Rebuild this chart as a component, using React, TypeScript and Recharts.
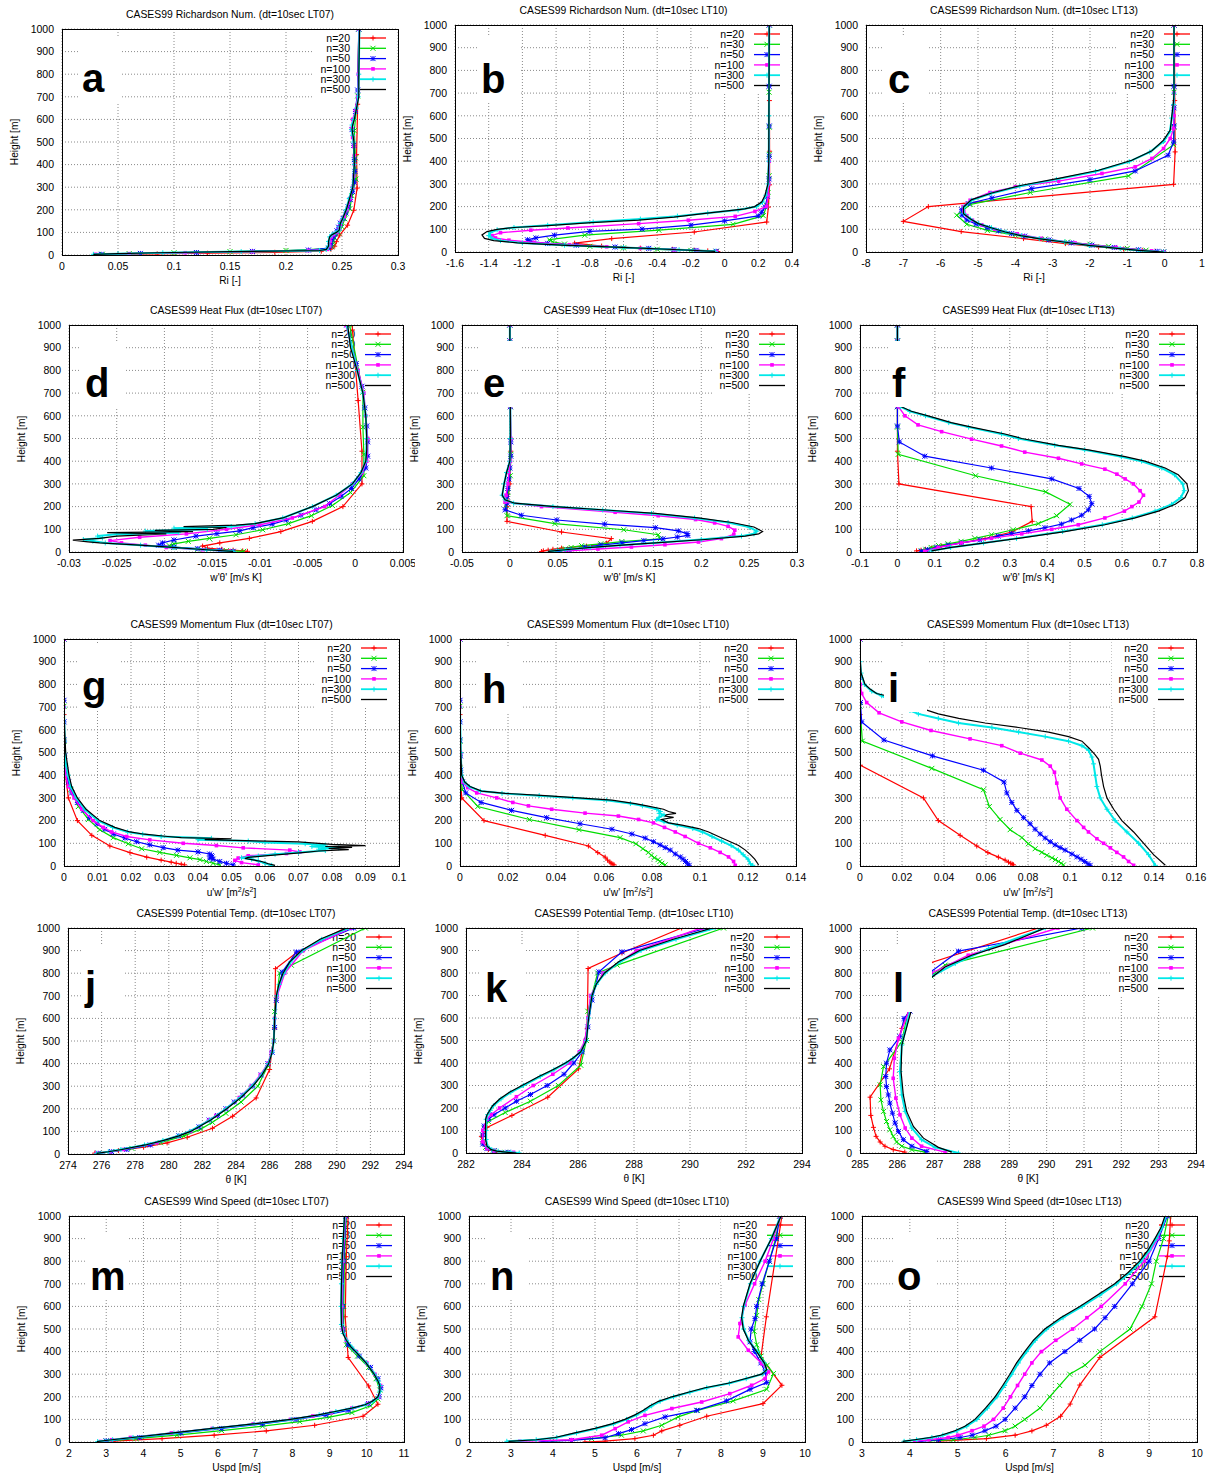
import React from 'react';
import { ScatterChart, Scatter, XAxis, YAxis, CartesianGrid } from 'recharts';

type P = [number, number]; // [height m, value]

const FONT = '"Liberation Sans", Arial, Helvetica, sans-serif';
const HEIGHT_TICKS = [0, 100, 200, 300, 400, 500, 600, 700, 800, 900, 1000];
const SERIES_NAMES = ['n=20', 'n=30', 'n=50', 'n=100', 'n=300', 'n=500'];
const SERIES_COLORS = ['#ff0000', '#00dd00', '#0000ff', '#ff00ff', '#00e8e8', '#000000'];
const SERIES_WIDTHS = [1.2, 1.2, 1.2, 1.4, 2, 1.2];

const TICKS_A = [0, 0.05, 0.1, 0.15, 0.2, 0.25, 0.3];
const TICKS_B = [-1.6, -1.4, -1.2, -1, -0.8, -0.6, -0.4, -0.2, 0, 0.2, 0.4];
const TICKS_C = [-8, -7, -6, -5, -4, -3, -2, -1, 0, 1];
const TICKS_D = [-0.03, -0.025, -0.02, -0.015, -0.01, -0.005, 0, 0.005];
const TICKS_E = [-0.05, 0, 0.05, 0.1, 0.15, 0.2, 0.25, 0.3];
const TICKS_F = [-0.1, 0, 0.1, 0.2, 0.3, 0.4, 0.5, 0.6, 0.7, 0.8];
const TICKS_G = [0, 0.01, 0.02, 0.03, 0.04, 0.05, 0.06, 0.07, 0.08, 0.09, 0.1];
const TICKS_H = [0, 0.02, 0.04, 0.06, 0.08, 0.1, 0.12, 0.14];
const TICKS_I = [0, 0.02, 0.04, 0.06, 0.08, 0.1, 0.12, 0.14, 0.16];
const TICKS_J = [274, 276, 278, 280, 282, 284, 286, 288, 290, 292, 294];
const TICKS_K = [282, 284, 286, 288, 290, 292, 294];
const TICKS_L = [285, 286, 287, 288, 289, 290, 291, 292, 293, 294];
const TICKS_M = [2, 3, 4, 5, 6, 7, 8, 9, 10, 11];
const TICKS_N = [2, 3, 4, 5, 6, 7, 8, 9, 10];
const TICKS_O = [3, 4, 5, 6, 7, 8, 9, 10];

// ---------- a: Richardson LT07 ----------
const a20: P[] = [[1000,0.265],[667,0.264],[444,0.263],[296,0.2635],[198,0.2605],[132,0.255],[88,0.248],[59,0.245],[39,0.2435],[26,0.24],[17,0.2315],[12,0.19],[8,0.13],[5,0.085],[3,0.05]];
const a30: P[] = [[1000,0.265],[704,0.264],[550,0.261],[430,0.262],[336,0.2625],[262,0.259],[205,0.257],[160,0.2525],[125,0.25],[98,0.247],[76,0.2435],[60,0.242],[47,0.2415],[36,0.241],[28,0.238],[20,0.2],[15,0.15],[10,0.1],[6,0.06],[3,0.036]];
const a50: P[] = [[1000,0.265],[730,0.264],[635,0.262],[555,0.259],[485,0.2605],[422,0.261],[370,0.2615],[322,0.261],[280,0.2595],[245,0.2575],[213,0.2555],[186,0.2535],[162,0.251],[141,0.2485],[123,0.247],[107,0.2455],[93,0.244],[81,0.2425],[70,0.241],[53,0.24],[40,0.2395],[30,0.238],[22,0.22],[16,0.17],[11,0.12],[7,0.07],[3,0.035]];
const a100: P[] = [[1000,0.265],[800,0.2645],[700,0.264],[640,0.262],[600,0.2595],[560,0.2585],[520,0.2595],[480,0.2605],[440,0.261],[400,0.261],[350,0.2605],[300,0.2595],[250,0.2575],[200,0.2545],[170,0.252],[150,0.2495],[130,0.2485],[115,0.2475],[100,0.2455],[90,0.2425],[80,0.2405],[60,0.2395],[40,0.239],[25,0.237],[20,0.22],[15,0.17],[10,0.11],[6,0.06],[3,0.03]];
const a300: P[] = [[1000,0.2655],[800,0.265],[700,0.2645],[650,0.263],[600,0.2605],[575,0.259],[555,0.2585],[530,0.2595],[500,0.2605],[400,0.261],[300,0.2595],[250,0.2565],[200,0.2535],[160,0.2505],[140,0.2485],[125,0.248],[110,0.2475],[100,0.2445],[90,0.241],[80,0.239],[60,0.238],[40,0.238],[25,0.236],[20,0.23],[15,0.16],[10,0.09],[6,0.05],[3,0.028]];
const a500: P[] = [[1000,0.2657],[800,0.265],[700,0.265],[650,0.263],[600,0.261],[575,0.2595],[555,0.259],[530,0.2598],[500,0.2607],[400,0.261],[300,0.2597],[250,0.2568],[200,0.2538],[160,0.2505],[140,0.2485],[125,0.248],[110,0.2475],[100,0.245],[90,0.241],[80,0.239],[60,0.238],[40,0.238],[25,0.236],[20,0.23],[15,0.15],[10,0.085],[6,0.05],[3,0.028]];

// ---------- b: Richardson LT10 ----------
const b20: P[] = [[1000,0.265],[667,0.266],[444,0.267],[296,0.267],[198,0.26],[132,0.25],[88,-0.18],[59,-0.67],[39,-0.89],[26,-0.73],[17,-0.5],[12,-0.31],[8,-0.18],[5,-0.1],[2,-0.04]];
const b30: P[] = [[1000,0.265],[704,0.264],[550,0.265],[430,0.265],[336,0.264],[262,0.258],[205,0.25],[160,0.23],[122,0.05],[96,-0.39],[74,-0.83],[54,-1.04],[45,-1.02],[35,-0.95],[25,-0.8],[18,-0.6],[12,-0.4],[7,-0.2],[3,-0.05]];
const b50: P[] = [[1000,0.265],[730,0.264],[555,0.265],[422,0.265],[322,0.264],[245,0.255],[199,0.24],[175,0.22],[159,0.2],[137,0.0],[118,-0.2],[101,-0.49],[91,-0.8],[74,-1.01],[62,-1.12],[54,-1.17],[46,-1.15],[38,-1.05],[30,-0.88],[22,-0.65],[16,-0.45],[11,-0.3],[7,-0.17],[3,-0.05]];
const b100: P[] = [[1000,0.265],[400,0.265],[300,0.262],[250,0.258],[201,0.25],[179,0.18],[157,0.063],[140,-0.215],[125,-0.51],[106,-0.93],[96,-1.15],[85,-1.33],[72,-1.38],[62,-1.36],[52,-1.28],[42,-1.13],[32,-0.92],[23,-0.7],[16,-0.5],[10,-0.3],[6,-0.16],[2,-0.05]];
const b300: P[] = [[1000,0.265],[600,0.263],[400,0.262],[300,0.258],[250,0.245],[220,0.225],[200,0.19],[185,0.08],[172,-0.1],[158,-0.28],[145,-0.5],[132,-0.78],[118,-1.05],[108,-1.25],[98,-1.35],[85,-1.39],[72,-1.4],[60,-1.38],[50,-1.33],[40,-1.2],[30,-0.95],[20,-0.6],[10,-0.27],[3,-0.056]];
const b500: P[] = [[1000,0.265],[600,0.263],[400,0.262],[300,0.257],[250,0.24],[220,0.22],[200,0.178],[190,0.12],[180,0.003],[170,-0.116],[154,-0.3],[140,-0.51],[129,-0.79],[115,-1.07],[108,-1.25],[100,-1.35],[90,-1.41],[75,-1.44],[60,-1.425],[50,-1.37],[40,-1.23],[30,-0.97],[20,-0.61],[10,-0.27],[3,-0.056]];

// ---------- c: Richardson LT13 ----------
const c20: P[] = [[1000,0.26],[667,0.27],[441,0.28],[298,0.24],[200,-6.33],[135,-7.0],[90,-5.45],[59,-3.78],[37,-2.66],[22,-1.77],[13,-1.1],[7,-0.6],[3,-0.25],[0,-0.03]];
const c30: P[] = [[1000,0.25],[704,0.25],[550,0.25],[473,0.24],[335,-0.97],[262,-3.6],[210,-5.2],[162,-5.57],[122,-5.3],[95,-4.75],[74,-4.0],[57,-3.2],[44,-2.6],[34,-2.0],[25,-1.5],[16,-1.0],[8,-0.5],[0,-0.03]];
const c50: P[] = [[1000,0.25],[730,0.25],[635,0.25],[555,0.25],[485,0.24],[426,0.09],[357,-0.79],[319,-2.0],[279,-3.56],[238,-4.63],[213,-5.26],[186,-5.44],[162,-5.43],[141,-5.3],[123,-5.05],[107,-4.75],[93,-4.45],[81,-4.1],[70,-3.75],[53,-3.1],[40,-2.5],[30,-1.95],[20,-1.35],[10,-0.7],[3,-0.2],[0,-0.03]];
const c100: P[] = [[1000,0.25],[700,0.25],[600,0.25],[544,0.24],[500,0.15],[456,-0.03],[412,-0.34],[375,-0.79],[346,-1.68],[312,-2.84],[287,-4.0],[262,-4.68],[228,-5.21],[200,-5.4],[180,-5.38],[160,-5.3],[140,-5.15],[120,-4.9],[100,-4.55],[80,-3.95],[60,-3.3],[40,-2.4],[20,-1.3],[5,-0.35],[0,-0.03]];
const c300: P[] = [[1000,0.25],[700,0.25],[650,0.24],[590,0.19],[530,0.14],[487,-0.03],[440,-0.4],[398,-0.95],[355,-1.85],[320,-2.9],[290,-3.88],[258,-4.65],[228,-5.17],[198,-5.38],[169,-5.38],[145,-5.2],[125,-4.98],[107,-4.64],[88,-4.25],[72,-3.83],[59,-3.36],[44,-2.68],[29,-2.02],[15,-1.19],[7,-0.7],[0,-0.03]];
const c500: P[] = [[1000,0.25],[700,0.25],[669,0.24],[596,0.19],[537,0.15],[493,-0.03],[446,-0.34],[404,-0.88],[360,-1.77],[324,-2.84],[294,-3.83],[260,-4.63],[231,-5.17],[198,-5.39],[169,-5.39],[145,-5.2],[125,-4.99],[107,-4.65],[88,-4.27],[72,-3.85],[59,-3.38],[44,-2.7],[29,-2.04],[15,-1.2],[7,-0.7],[0,-0.03]];

// ---------- d: Heat flux LT07 ----------
const d20: P[] = [[1000,-0.0003],[978,-0.0003],[667,0.0003],[444,0.0007],[300,0.0007],[200,-0.0013],[135,-0.0045],[90,-0.0078],[60,-0.0111],[40,-0.0142],[26,-0.016],[17,-0.0155],[12,-0.014],[8,-0.0128],[5,-0.0118],[3,-0.0113]];
const d30: P[] = [[1000,-0.0006],[704,0.0008],[550,0.0008],[430,0.0009],[336,0.0009],[262,-0.0005],[205,-0.0024],[160,-0.0046],[125,-0.007],[98,-0.0097],[76,-0.0125],[60,-0.0153],[47,-0.0175],[36,-0.019],[28,-0.0195],[20,-0.019],[12,-0.0165],[6,-0.0135],[3,-0.0117]];
const d50: P[] = [[1000,-0.0009],[830,0.0001],[730,0.0007],[635,0.001],[555,0.0012],[485,0.0013],[422,0.0013],[370,0.0011],[322,0.0004],[280,-0.0004],[245,-0.0015],[213,-0.0027],[186,-0.0041],[162,-0.0057],[141,-0.0072],[123,-0.0087],[107,-0.0107],[93,-0.0121],[81,-0.0145],[70,-0.0167],[53,-0.019],[40,-0.0202],[30,-0.0206],[22,-0.019],[15,-0.0165],[8,-0.0142],[3,-0.0128]];
const d100: P[] = [[1000,-0.001],[800,0.0003],[700,0.0009],[600,0.0011],[500,0.0013],[400,0.0012],[350,0.0007],[300,-0.0003],[250,-0.0017],[200,-0.0032],[150,-0.0066],[120,-0.01],[100,-0.0135],[80,-0.0177],[65,-0.0226],[50,-0.0257],[40,-0.0245],[30,-0.022],[20,-0.0198],[10,-0.016],[3,-0.0132]];
const d300: P[] = [[1000,-0.0009],[800,0.0002],[700,0.0008],[600,0.0011],[500,0.0012],[400,0.0011],[350,0.0006],[300,-0.0003],[250,-0.002],[200,-0.0045],[150,-0.0076],[125,-0.0105],[112,-0.013],[105,-0.019],[100,-0.0155],[92,-0.022],[85,-0.0185],[78,-0.025],[70,-0.027],[62,-0.0265],[55,-0.0285],[48,-0.0275],[40,-0.0262],[30,-0.0225],[20,-0.019],[10,-0.0156],[3,-0.0128]];
const d500: P[] = [[1000,-0.0008],[900,-0.0005],[800,0.0002],[700,0.0008],[600,0.0011],[500,0.0012],[450,0.0012],[400,0.0011],[350,0.0006],[300,-0.0003],[250,-0.002],[200,-0.0045],[150,-0.0076],[125,-0.0105],[118,-0.0125],[112,-0.018],[108,-0.0135],[100,-0.0149],[95,-0.021],[90,-0.017],[85,-0.026],[80,-0.0198],[70,-0.025],[60,-0.0268],[52,-0.0296],[45,-0.028],[40,-0.0268],[30,-0.0226],[20,-0.0191],[10,-0.0156],[3,-0.0128]];

// ---------- e: Heat flux LT10 ----------
const e20: P[] = [[1000,0],[930,0],[640,0.0005],[444,0.001],[300,0.0],[200,-0.003],[135,-0.003],[88,0.054],[59,0.106],[39,0.101],[26,0.08],[17,0.054],[12,0.045],[8,0.04],[5,0.035],[2,0.033]];
const e30: P[] = [[1000,0],[930,0],[640,0.0005],[430,0.001],[336,0.0005],[262,-0.002],[205,-0.004],[160,-0.003],[125,0.047],[98,0.119],[76,0.155],[58,0.157],[46,0.117],[36,0.095],[28,0.075],[20,0.064],[14,0.058],[8,0.052],[3,0.048]];
const e50: P[] = [[1000,0],[930,0],[640,0.0005],[485,0.001],[422,0.001],[370,0.0],[322,-0.001],[280,-0.002],[245,-0.003],[215,-0.003],[186,-0.005],[162,0.012],[141,0.049],[123,0.099],[107,0.152],[93,0.176],[81,0.185],[73,0.186],[66,0.175],[58,0.16],[50,0.14],[40,0.117],[30,0.095],[20,0.078],[10,0.062],[3,0.05]];
const e100: P[] = [[1000,0],[930,0],[640,0.0005],[500,0.001],[400,0.0005],[350,-0.001],[300,-0.002],[250,-0.004],[220,-0.005],[200,0.033],[175,0.11],[160,0.155],[143,0.194],[128,0.214],[113,0.228],[96,0.235],[78,0.234],[59,0.221],[44,0.197],[32,0.162],[22,0.127],[13,0.092],[4,0.058]];
const e300: P[] = [[1000,0],[930,0],[640,0.0005],[500,0.0005],[400,0.0],[350,-0.0035],[300,-0.006],[250,-0.008],[230,-0.005],[215,0.004],[200,0.045],[185,0.097],[170,0.148],[150,0.193],[130,0.228],[110,0.25],[92,0.258],[80,0.255],[70,0.242],[55,0.2],[40,0.15],[30,0.115],[20,0.084],[10,0.058],[3,0.042]];
const e500: P[] = [[1000,0],[930,0],[640,0.0005],[500,0.0005],[400,0.0],[350,-0.0035],[300,-0.006],[250,-0.008],[230,-0.005],[215,0.005],[200,0.047],[185,0.1],[170,0.152],[150,0.197],[130,0.232],[110,0.255],[90,0.264],[80,0.26],[70,0.246],[55,0.204],[40,0.152],[30,0.117],[20,0.085],[10,0.058],[3,0.04]];

// ---------- f: Heat flux LT13 ----------
const f20: P[] = [[1000,0],[930,0],[640,0.0],[444,0.0],[300,0.004],[200,0.357],[135,0.36],[88,0.305],[59,0.234],[39,0.167],[26,0.118],[17,0.091],[12,0.075],[8,0.063],[5,0.051]];
const f30: P[] = [[1000,0],[930,0],[640,0],[550,0],[430,0.002],[336,0.209],[265,0.396],[210,0.461],[160,0.425],[125,0.376],[98,0.309],[76,0.251],[60,0.207],[47,0.17],[36,0.135],[28,0.11],[20,0.09],[12,0.076],[5,0.064]];
const f50: P[] = [[1000,0],[930,0],[640,0],[555,0],[485,0.005],[422,0.073],[370,0.251],[322,0.412],[280,0.485],[245,0.512],[213,0.519],[186,0.51],[162,0.492],[141,0.465],[123,0.438],[107,0.394],[93,0.35],[81,0.305],[70,0.269],[53,0.22],[40,0.171],[30,0.135],[20,0.105],[10,0.08],[3,0.064]];
const f100: P[] = [[1000,0],[930,0],[640,0.003],[600,0.02],[560,0.055],[530,0.118],[497,0.198],[467,0.278],[440,0.34],[413,0.43],[388,0.492],[365,0.554],[343,0.586],[322,0.608],[300,0.63],[270,0.648],[250,0.657],[220,0.645],[200,0.626],[180,0.606],[150,0.554],[120,0.483],[100,0.412],[80,0.332],[60,0.251],[40,0.171],[20,0.109],[3,0.073]];
const f300: P[] = [[1000,0],[930,0],[640,0.008],[620,0.033],[600,0.075],[570,0.137],[550,0.19],[520,0.278],[500,0.323],[470,0.42],[450,0.5],[420,0.598],[400,0.652],[370,0.706],[340,0.74],[300,0.762],[270,0.766],[240,0.757],[210,0.732],[180,0.688],[150,0.627],[120,0.547],[90,0.441],[60,0.318],[40,0.23],[20,0.142],[5,0.09]];
const f500: P[] = [[1000,0],[930,0],[640,0.01],[620,0.037],[600,0.082],[570,0.144],[550,0.198],[520,0.287],[500,0.332],[470,0.43],[450,0.51],[420,0.608],[400,0.661],[370,0.715],[340,0.75],[300,0.773],[270,0.777],[240,0.768],[210,0.742],[180,0.697],[150,0.635],[120,0.554],[90,0.447],[60,0.323],[40,0.234],[20,0.144],[5,0.091]];

// ---------- g: Momentum flux LT07 ----------
const g20: P[] = [[1000,0],[667,0],[444,0.0001],[300,0.0013],[200,0.004],[135,0.0083],[88,0.0137],[59,0.0197],[39,0.0247],[26,0.029],[17,0.032],[12,0.0335],[8,0.035],[5,0.036]];
const g30: P[] = [[1000,0],[704,0],[550,0],[430,0.0003],[336,0.002],[262,0.0043],[205,0.0073],[160,0.0107],[125,0.0147],[98,0.0192],[76,0.0232],[60,0.0286],[47,0.0336],[36,0.0376],[28,0.0406],[20,0.0425],[12,0.0445],[5,0.0465]];
const g50: P[] = [[1000,0],[730,0],[635,0],[555,0],[485,0.0002],[422,0.0005],[370,0.0013],[322,0.0023],[280,0.004],[245,0.0058],[213,0.0076],[186,0.0099],[162,0.0122],[141,0.0147],[123,0.0182],[107,0.0217],[93,0.0256],[81,0.0296],[70,0.034],[62,0.04],[53,0.0435],[46,0.044],[40,0.0442],[35,0.0435],[30,0.0445],[20,0.0465],[12,0.0485],[5,0.0505]];
const g100: P[] = [[1000,0],[700,0],[550,0.0001],[450,0.0003],[400,0.0005],[350,0.0013],[300,0.003],[250,0.0053],[200,0.0087],[170,0.0117],[150,0.0142],[130,0.0187],[115,0.0256],[100,0.0356],[90,0.0455],[80,0.0535],[70,0.0674],[62,0.0704],[55,0.0664],[45,0.055],[35,0.052],[25,0.051],[15,0.053],[5,0.058]];
const g300: P[] = [[1000,0],[700,0],[550,0.0002],[450,0.0005],[400,0.0012],[350,0.002],[300,0.0037],[250,0.0062],[200,0.0102],[170,0.0145],[150,0.019],[140,0.0235],[130,0.029],[122,0.044],[116,0.04],[110,0.055],[104,0.06],[98,0.072],[92,0.078],[86,0.074],[80,0.082],[74,0.076],[68,0.078],[60,0.07],[52,0.063],[44,0.058],[36,0.053],[30,0.056],[22,0.058],[12,0.06],[3,0.062]];
const g500: P[] = [[1000,0],[700,0],[600,0.0002],[500,0.0005],[400,0.0015],[350,0.0023],[300,0.004],[250,0.0066],[200,0.0107],[170,0.0152],[150,0.0197],[140,0.024],[130,0.031],[125,0.035],[120,0.05],[116,0.042],[111,0.057],[106,0.07],[100,0.076],[95,0.08],[90,0.09],[86,0.078],[82,0.086],[77,0.079],[72,0.085],[66,0.076],[60,0.072],[52,0.066],[45,0.06],[38,0.055],[33,0.054],[28,0.056],[20,0.059],[10,0.061],[3,0.063]];

// ---------- h: Momentum flux LT10 ----------
const h20: P[] = [[1000,0],[667,0],[444,0],[300,0.0007],[200,0.01],[135,0.0355],[88,0.0535],[59,0.0574],[39,0.0605],[26,0.0615],[17,0.0625],[12,0.063],[8,0.0637],[5,0.0642]];
const h30: P[] = [[1000,0],[704,0],[550,0],[430,0],[336,0.001],[262,0.0074],[205,0.0289],[160,0.0496],[125,0.0667],[98,0.0733],[76,0.0762],[60,0.0785],[47,0.0797],[36,0.081],[28,0.0825],[20,0.0833],[12,0.0841],[5,0.0855]];
const h50: P[] = [[1000,0],[730,0],[635,0],[555,0],[485,0.0002],[422,0.0003],[370,0.001],[322,0.0024],[280,0.0088],[245,0.0215],[213,0.0361],[186,0.05],[162,0.0633],[141,0.0716],[123,0.0772],[107,0.0806],[93,0.0834],[81,0.0855],[70,0.0876],[53,0.0897],[40,0.0918],[30,0.093],[20,0.094],[10,0.0948],[3,0.0955]];
const h100: P[] = [[1000,0],[700,0],[500,0.0002],[400,0.0004],[370,0.001],[345,0.0032],[322,0.007],[300,0.0153],[280,0.022],[265,0.0285],[250,0.0382],[233,0.0521],[220,0.066],[205,0.0744],[190,0.0806],[170,0.0852],[150,0.0897],[130,0.0938],[100,0.0994],[80,0.1043],[60,0.1084],[40,0.1119],[20,0.114],[3,0.1147]];
const h300: P[] = [[1000,0],[700,0],[500,0.0003],[400,0.0007],[370,0.0018],[350,0.0038],[330,0.0085],[320,0.0175],[310,0.033],[300,0.047],[290,0.061],[275,0.071],[265,0.076],[250,0.082],[240,0.0835],[232,0.083],[225,0.085],[215,0.083],[205,0.082],[195,0.085],[180,0.0905],[165,0.097],[150,0.101],[130,0.105],[110,0.109],[90,0.113],[70,0.116],[50,0.118],[30,0.12],[10,0.121],[3,0.122]];
const h500: P[] = [[1000,0],[700,0],[500,0.0003],[400,0.0007],[370,0.002],[350,0.0042],[330,0.009],[320,0.0188],[310,0.0355],[300,0.0494],[290,0.0633],[275,0.073],[265,0.0779],[250,0.0848],[240,0.0869],[232,0.09],[226,0.086],[220,0.0855],[214,0.089],[205,0.084],[190,0.0869],[180,0.0925],[165,0.0994],[150,0.1036],[130,0.1077],[110,0.1119],[90,0.1161],[70,0.1189],[50,0.121],[30,0.1228],[10,0.1241],[3,0.1244]];

// ---------- i: Momentum flux LT13 ----------
const i20: P[] = [[1000,0],[667,0],[444,0.0002],[300,0.0302],[200,0.0373],[135,0.0477],[88,0.0556],[59,0.0609],[39,0.0659],[26,0.0691],[17,0.0707],[12,0.0718],[8,0.0725],[5,0.0731]];
const i30: P[] = [[1000,0],[704,0],[550,0.0011],[430,0.0342],[336,0.0588],[262,0.0616],[205,0.0667],[160,0.0715],[125,0.0771],[98,0.0802],[76,0.0834],[60,0.0866],[47,0.089],[36,0.0914],[28,0.093],[20,0.0945],[12,0.0958],[5,0.0969]];
const i50: P[] = [[1000,0],[830,0],[720,0.0002],[635,0.0008],[555,0.0114],[485,0.0345],[422,0.0588],[370,0.0686],[322,0.0699],[280,0.0723],[245,0.0747],[213,0.0779],[186,0.081],[162,0.0834],[141,0.0858],[123,0.0882],[107,0.0906],[93,0.0929],[81,0.0953],[70,0.0977],[53,0.1009],[40,0.1033],[30,0.1053],[20,0.107],[10,0.1085],[3,0.1096]];
const i100: P[] = [[1000,0],[850,0],[800,0.0002],[760,0.0008],[720,0.0032],[675,0.0091],[635,0.0199],[597,0.0338],[560,0.0524],[530,0.0675],[497,0.0763],[467,0.0866],[440,0.0906],[413,0.0926],[365,0.0937],[300,0.0953],[250,0.0985],[200,0.1033],[170,0.1065],[150,0.1088],[120,0.1128],[100,0.116],[80,0.1192],[60,0.1223],[40,0.1255],[20,0.1279],[3,0.1303]];
const i300: P[] = [[1000,0],[900,0],[850,0.0005],[800,0.0021],[770,0.0056],[750,0.0103],[720,0.016],[700,0.02],[685,0.0238],[670,0.0278],[650,0.0373],[630,0.0469],[610,0.0628],[590,0.0755],[570,0.0882],[550,0.0993],[530,0.1057],[510,0.1088],[480,0.1104],[450,0.1112],[400,0.112],[350,0.1128],[300,0.1144],[250,0.1176],[200,0.1215],[150,0.1271],[100,0.1327],[50,0.1374],[3,0.1406]];
const i500: P[] = [[1000,0],[900,0.0002],[850,0.0005],[800,0.0024],[780,0.0048],[760,0.0079],[748,0.0135],[720,0.022],[690,0.0307],[670,0.0373],[650,0.047],[630,0.0596],[610,0.0755],[590,0.0898],[570,0.0993],[550,0.1057],[520,0.109],[490,0.112],[470,0.1136],[440,0.1144],[400,0.115],[350,0.116],[300,0.1176],[250,0.1208],[200,0.1247],[150,0.1303],[100,0.1351],[50,0.1398],[3,0.1454]];

// ---------- j: Potential temperature LT07 ----------
const j20: P[] = [[1000,290.5],[890,287.6],[820,286.35],[554,286.3],[374,286.0],[248,285.2],[167,283.8],[114,282.6],[74,281.1],[49,279.9],[30,278.5],[15,277.0],[4,275.6]];
const j30: P[] = [[1000,291.7],[835,287.3],[800,286.6],[630,286.3],[500,286.25],[390,285.9],[300,285.3],[230,284.3],[180,283.4],[140,282.6],[110,281.9],[80,280.9],[50,279.5],[25,277.8],[10,276.6],[3,275.8]];
const j50: P[] = [[1000,291.0],[894,287.6],[805,286.75],[680,286.4],[560,286.3],[450,286.15],[400,285.9],[350,285.5],[300,285.0],[260,284.4],[230,283.9],[200,283.4],[170,282.9],[150,282.4],[120,281.8],[80,280.6],[40,278.9],[20,277.5],[10,276.6],[3,275.8]];
const j100: P[] = [[1000,290.8],[900,288.0],[800,286.9],[700,286.45],[600,286.3],[500,286.25],[450,286.1],[400,285.9],[350,285.45],[300,284.9],[250,284.2],[200,283.4],[170,282.8],[150,282.4],[100,281.3],[50,279.3],[20,277.3],[10,276.5],[3,275.7]];
const j300: P[] = [[1000,290.7],[950,289.1],[900,287.95],[850,287.25],[800,286.85],[750,286.57],[700,286.42],[600,286.3],[500,286.25],[450,286.15],[400,285.93],[350,285.52],[300,284.95],[250,284.25],[200,283.4],[150,282.45],[100,281.25],[80,280.55],[60,279.65],[40,278.55],[20,277.15],[10,276.4],[3,275.7]];
const j500: P[] = [[1000,290.6],[950,289.0],[900,287.9],[850,287.2],[800,286.8],[750,286.55],[700,286.4],[600,286.3],[500,286.25],[450,286.15],[400,285.95],[350,285.55],[300,285.0],[250,284.3],[200,283.45],[150,282.5],[100,281.3],[80,280.6],[60,279.7],[40,278.6],[20,277.2],[10,276.4],[3,275.7]];

// ---------- k: Potential temperature LT10 ----------
const k20: P[] = [[1000,289.7],[889,287.57],[820,286.36],[554,286.33],[374,286.02],[248,284.92],[167,283.64],[114,282.75],[74,282.55],[49,282.6],[30,282.7],[15,282.8],[4,283.1]];
const k30: P[] = [[1000,291.2],[835,287.4],[800,286.7],[630,286.35],[500,286.3],[390,286.1],[300,285.3],[230,284.3],[180,283.4],[140,282.8],[110,282.65],[80,282.6],[50,282.6],[25,282.7],[10,283.0],[3,283.4]];
const k50: P[] = [[1000,290.6],[894,287.57],[805,286.75],[680,286.5],[560,286.35],[450,286.15],[400,285.85],[350,285.5],[300,284.9],[260,284.3],[230,283.8],[200,283.4],[170,283.0],[150,282.8],[120,282.65],[80,282.6],[40,282.6],[20,282.75],[10,283.0],[3,283.5]];
const k100: P[] = [[1000,290.4],[900,288.1],[800,286.9],[700,286.45],[600,286.35],[500,286.25],[450,286.05],[400,285.7],[350,285.1],[300,284.4],[250,283.8],[200,283.2],[170,282.9],[150,282.75],[100,282.6],[50,282.6],[20,282.75],[10,283.0],[3,283.7]];
const k300: P[] = [[1000,290.9],[950,289.5],[900,288.25],[850,287.5],[800,286.97],[750,286.66],[700,286.5],[600,286.38],[500,286.3],[450,286.1],[420,285.82],[400,285.58],[370,285.14],[340,284.65],[300,284.05],[270,283.6],[240,283.25],[210,282.98],[190,282.87],[170,282.77],[150,282.72],[100,282.72],[60,282.72],[30,282.77],[15,282.92],[8,283.15],[3,283.6],[0,283.9]];
const k500: P[] = [[1000,290.8],[950,289.4],[900,288.2],[850,287.45],[800,286.95],[750,286.65],[700,286.5],[600,286.38],[500,286.3],[450,286.1],[420,285.8],[400,285.55],[370,285.1],[340,284.6],[300,284.0],[270,283.55],[240,283.2],[210,282.95],[190,282.85],[170,282.75],[150,282.7],[100,282.7],[60,282.7],[30,282.75],[15,282.9],[8,283.1],[3,283.5],[0,283.8]];

// ---------- l: Potential temperature LT13 ----------
const l20: P[] = [[1000,289.78],[846,286.9],[631,286.3],[554,286.12],[374,285.79],[248,285.27],[167,285.29],[114,285.36],[74,285.43],[49,285.54],[30,285.67],[15,285.89],[4,286.2]];
const l30: P[] = [[1000,291.23],[835,287.28],[787,286.9],[640,286.3],[495,286.12],[384,285.63],[303,285.54],[236,285.56],[185,285.63],[140,285.71],[103,285.8],[74,285.89],[49,285.98],[30,286.12],[15,286.39],[4,286.74]];
const l50: P[] = [[1000,290.94],[897,287.64],[805,286.9],[631,286.34],[598,286.18],[517,286.07],[458,285.8],[399,285.71],[340,285.69],[295,285.71],[258,285.76],[222,285.8],[177,285.87],[133,285.94],[96,286.03],[59,286.16],[30,286.39],[7,286.79]];
const l100: P[] = [[1000,290.3],[879,287.9],[798,286.9],[631,286.31],[510,286.03],[421,285.92],[332,285.89],[244,285.96],[170,286.07],[111,286.21],[66,286.39],[30,286.65],[4,287.28]];
const l300: P[] = [[1000,289.96],[908,288.44],[842,287.55],[783,286.9],[631,286.34],[480,286.12],[362,286.07],[258,286.12],[185,286.21],[111,286.39],[59,286.65],[25,287.01],[0,287.64]];
const l500: P[] = [[1000,289.96],[926,288.88],[879,287.99],[827,287.28],[778,286.9],[631,286.37],[480,286.12],[362,286.1],[258,286.16],[185,286.25],[118,286.43],[66,286.7],[25,287.1],[4,287.46]];

// ---------- m: Wind speed LT07 ----------
const m20: P[] = [[1000,9.5],[820,9.45],[554,9.42],[374,9.5],[248,10.05],[167,10.3],[114,9.9],[74,8.6],[49,7.3],[30,5.9],[15,4.5],[4,3.2]];
const m30: P[] = [[1000,9.45],[800,9.4],[600,9.38],[500,9.38],[430,9.45],[380,9.75],[330,10.05],[280,10.25],[230,10.35],[190,10.3],[160,10.1],[130,9.6],[110,9.0],[90,8.2],[70,7.2],[50,6.1],[30,4.9],[15,3.8],[4,3.0]];
const m50: P[] = [[1000,9.44],[800,9.38],[600,9.35],[500,9.36],[430,9.5],[380,9.8],[330,10.1],[280,10.3],[240,10.38],[200,10.33],[170,10.05],[140,9.5],[120,8.9],[100,8.1],[80,7.2],[60,6.1],[40,5.0],[20,3.9],[5,3.0]];
const m100: P[] = [[1000,9.43],[800,9.36],[600,9.33],[500,9.35],[450,9.45],[400,9.72],[350,10.0],[300,10.22],[250,10.37],[200,10.32],[170,10.02],[150,9.6],[130,9.05],[115,8.55],[100,7.95],[80,6.95],[60,5.85],[40,4.75],[20,3.65],[10,3.15],[2,2.85]];
const m300: P[] = [[1000,9.41],[900,9.37],[800,9.34],[700,9.32],[600,9.31],[520,9.32],[480,9.37],[450,9.46],[420,9.6],[400,9.71],[350,9.99],[300,10.21],[270,10.31],[250,10.36],[225,10.36],[200,10.31],[180,10.16],[165,9.96],[150,9.62],[135,9.17],[120,8.72],[100,7.97],[80,6.97],[60,5.87],[40,4.82],[20,3.72],[10,3.17],[2,2.77]];
const m500: P[] = [[1000,9.4],[900,9.37],[800,9.34],[700,9.32],[600,9.31],[520,9.32],[480,9.36],[450,9.45],[420,9.58],[400,9.7],[350,9.98],[300,10.2],[270,10.3],[250,10.35],[225,10.35],[200,10.3],[180,10.15],[165,9.95],[150,9.6],[135,9.15],[120,8.7],[100,7.95],[80,6.95],[60,5.85],[40,4.8],[20,3.7],[10,3.15],[2,2.75]];

// ---------- n: Wind speed LT10 ----------
const n20: P[] = [[1000,9.45],[554,9.08],[374,8.95],[251,9.45],[170,9.0],[114,7.66],[74,7.02],[49,6.59],[30,6.39],[15,5.95],[4,5.24],[0,4.76]];
const n30: P[] = [[1000,9.4],[900,9.3],[800,9.15],[700,9.0],[630,8.9],[560,8.85],[490,8.79],[430,8.85],[380,8.95],[340,9.1],[303,9.25],[233,9.09],[182,8.29],[140,7.44],[111,6.98],[74,6.59],[49,6.15],[30,5.63],[15,4.92],[4,3.97]];
const n50: P[] = [[1000,9.4],[900,9.32],[800,9.15],[700,8.98],[600,8.85],[546,8.81],[500,8.72],[443,8.69],[400,8.8],[350,8.95],[307,9.06],[263,9.09],[233,8.69],[182,8.13],[140,7.42],[111,6.67],[81,6.19],[55,5.87],[37,5.56],[19,5.24],[7,4.44],[3,3.73]];
const n100: P[] = [[1000,9.4],[900,9.25],[800,9.05],[700,8.8],[605,8.57],[524,8.45],[465,8.41],[406,8.65],[347,8.97],[310,9.13],[281,9.05],[251,8.73],[214,8.21],[177,7.54],[148,6.83],[118,6.19],[89,5.79],[59,5.48],[30,5.16],[10,4.44],[3,3.21]];
const n300: P[] = [[1000,9.42],[900,9.2],[800,8.93],[700,8.7],[600,8.54],[550,8.5],[500,8.54],[450,8.66],[400,8.86],[350,9.03],[320,9.08],[300,8.98],[280,8.6],[260,8.2],[240,7.66],[220,7.26],[200,6.87],[180,6.55],[160,6.35],[140,6.19],[120,5.99],[100,5.75],[80,5.44],[60,5.04],[40,4.56],[20,4.09],[10,3.6],[3,2.9]];
const n500: P[] = [[1000,9.43],[900,9.2],[800,8.93],[700,8.69],[600,8.53],[550,8.49],[500,8.53],[450,8.65],[400,8.85],[350,9.03],[320,9.09],[300,8.97],[280,8.57],[260,8.17],[240,7.62],[220,7.22],[200,6.83],[180,6.51],[160,6.31],[140,6.15],[120,5.95],[100,5.71],[80,5.4],[60,5.0],[40,4.52],[20,4.05],[10,3.6],[3,2.94]];

// ---------- o: Wind speed LT13 ----------
const o20: P[] = [[1000,9.45],[890,9.42],[820,9.38],[554,9.12],[374,7.97],[252,7.55],[168,7.35],[114,7.15],[74,6.85],[49,6.55],[30,6.2],[15,5.6],[4,4.6]];
const o30: P[] = [[1000,9.4],[900,9.3],[800,9.15],[700,9.05],[600,8.85],[500,8.6],[400,7.97],[340,7.66],[300,7.34],[250,7.13],[200,6.92],[150,6.72],[100,6.4],[70,6.2],[50,5.99],[30,5.65],[20,5.36],[10,4.9],[5,4.42]];
const o50: P[] = [[1000,9.38],[900,9.2],[800,9.0],[700,8.65],[600,8.28],[550,8.08],[500,7.86],[450,7.55],[400,7.24],[350,6.92],[300,6.72],[250,6.55],[200,6.4],[150,6.2],[100,5.99],[70,5.8],[50,5.57],[30,5.3],[20,5.05],[10,4.6],[3,4.21]];
const o100: P[] = [[1000,9.35],[900,9.18],[800,8.9],[700,8.5],[600,8.0],[550,7.7],[500,7.4],[450,7.05],[400,6.75],[350,6.55],[300,6.4],[250,6.25],[200,6.1],[150,5.95],[100,5.75],[70,5.55],[50,5.3],[30,5.0],[20,4.8],[10,4.4],[3,4.1]];
const o300: P[] = [[1000,9.35],[950,9.27],[900,9.15],[850,9.01],[800,8.83],[750,8.6],[700,8.32],[650,7.97],[600,7.6],[550,7.2],[500,6.86],[450,6.62],[400,6.44],[350,6.27],[300,6.13],[250,5.98],[200,5.82],[150,5.62],[100,5.4],[70,5.19],[50,4.98],[30,4.69],[20,4.46],[10,4.14],[3,3.88]];
const o500: P[] = [[1000,9.33],[950,9.25],[900,9.12],[850,8.98],[800,8.8],[750,8.56],[700,8.28],[650,7.92],[600,7.55],[550,7.15],[500,6.82],[450,6.58],[400,6.4],[350,6.23],[300,6.09],[250,5.94],[200,5.78],[150,5.58],[100,5.36],[70,5.15],[50,4.94],[30,4.65],[20,4.42],[10,4.1],[3,3.85]];

const T_RI = 'CASES99 Richardson Num. (dt=10sec ';
const T_HF = 'CASES99 Heat Flux (dt=10sec ';
const T_MF = 'CASES99 Momentum Flux (dt=10sec ';
const T_PT = 'CASES99 Potential Temp. (dt=10sec ';
const T_WS = 'CASES99 Wind Speed (dt=10sec ';

const LBL_MF = (<span>u'w' [m<sup style={{ fontSize: '7px' }}>2</sup>/s<sup style={{ fontSize: '7px' }}>2</sup>]</span>);

type PanelDef = {
  letter: string; title: string; xLabel: any; domain: [number, number]; ticks: number[];
  series: P[][]; rect: [number, number, number, number]; glyph: [number, number];
};

const PANELS: PanelDef[] = [
  { letter: 'a', title: T_RI + 'LT07)', xLabel: 'Ri [-]', domain: [0, 0.3], ticks: TICKS_A, series: [a20, a30, a50, a100, a300, a500], rect: [62, 29, 398, 255], glyph: [82, 92] },
  { letter: 'b', title: T_RI + 'LT10)', xLabel: 'Ri [-]', domain: [-1.6, 0.4], ticks: TICKS_B, series: [b20, b30, b50, b100, b300, b500], rect: [455, 25, 792, 252], glyph: [481, 93] },
  { letter: 'c', title: T_RI + 'LT13)', xLabel: 'Ri [-]', domain: [-8, 1], ticks: TICKS_C, series: [c20, c30, c50, c100, c300, c500], rect: [866, 25, 1202, 252], glyph: [888, 93] },
  { letter: 'd', title: T_HF + 'LT07)', xLabel: "w'θ' [m/s K]", domain: [-0.03, 0.005], ticks: TICKS_D, series: [d20, d30, d50, d100, d300, d500], rect: [69, 325, 403, 552], glyph: [85, 397] },
  { letter: 'e', title: T_HF + 'LT10)', xLabel: "w'θ' [m/s K]", domain: [-0.05, 0.3], ticks: TICKS_E, series: [e20, e30, e50, e100, e300, e500], rect: [462, 325, 797, 552], glyph: [483, 397] },
  { letter: 'f', title: T_HF + 'LT13)', xLabel: "w'θ' [m/s K]", domain: [-0.1, 0.8], ticks: TICKS_F, series: [f20, f30, f50, f100, f300, f500], rect: [860, 325, 1197, 552], glyph: [892, 397] },
  { letter: 'g', title: T_MF + 'LT07)', xLabel: LBL_MF, domain: [0, 0.1], ticks: TICKS_G, series: [g20, g30, g50, g100, g300, g500], rect: [64, 639, 399, 866], glyph: [82, 700] },
  { letter: 'h', title: T_MF + 'LT10)', xLabel: LBL_MF, domain: [0, 0.14], ticks: TICKS_H, series: [h20, h30, h50, h100, h300, h500], rect: [460, 639, 796, 866], glyph: [482, 703] },
  { letter: 'i', title: T_MF + 'LT13)', xLabel: LBL_MF, domain: [0, 0.16], ticks: TICKS_I, series: [i20, i30, i50, i100, i300, i500], rect: [860, 639, 1196, 866], glyph: [888, 702] },
  { letter: 'j', title: T_PT + 'LT07)', xLabel: 'θ [K]', domain: [274, 294], ticks: TICKS_J, series: [j20, j30, j50, j100, j300, j500], rect: [68, 928, 404, 1154], glyph: [85, 1000] },
  { letter: 'k', title: T_PT + 'LT10)', xLabel: 'θ [K]', domain: [282, 294], ticks: TICKS_K, series: [k20, k30, k50, k100, k300, k500], rect: [466, 928, 802, 1153], glyph: [485, 1002] },
  { letter: 'l', title: T_PT + 'LT13)', xLabel: 'θ [K]', domain: [285, 294], ticks: TICKS_L, series: [l20, l30, l50, l100, l300, l500], rect: [860, 928, 1196, 1153], glyph: [893, 1002] },
  { letter: 'm', title: T_WS + 'LT07)', xLabel: 'Uspd [m/s]', domain: [2, 11], ticks: TICKS_M, series: [m20, m30, m50, m100, m300, m500], rect: [69, 1216, 404, 1442], glyph: [90, 1290] },
  { letter: 'n', title: T_WS + 'LT10)', xLabel: 'Uspd [m/s]', domain: [2, 10], ticks: TICKS_N, series: [n20, n30, n50, n100, n300, n500], rect: [469, 1216, 805, 1442], glyph: [490, 1290] },
  { letter: 'o', title: T_WS + 'LT13)', xLabel: 'Uspd [m/s]', domain: [3, 10], ticks: TICKS_O, series: [o20, o30, o50, o100, o300, o500], rect: [862, 1216, 1197, 1442], glyph: [897, 1290] },
];

const ML = 50, MT = 12, MR = 12, MB = 24;

function markerPath(kind: number, cx: number, cy: number): string {
  const s = 2.5;
  const plus = `M${cx - s},${cy}H${cx + s}M${cx},${cy - s}V${cy + s}`;
  const cross = `M${cx - s},${cy - s}L${cx + s},${cy + s}M${cx - s},${cy + s}L${cx + s},${cy - s}`;
  if (kind === 0 || kind === 4) return plus;
  if (kind === 1) return cross;
  if (kind === 2) return plus + cross;
  return '';
}

function Marker({ cx, cy, kind, color }: { cx?: number; cy?: number; kind: number; color: string }) {
  if (cx == null || cy == null || kind === 5) return <g />;
  if (kind === 3) return <rect x={cx - 1.8} y={cy - 1.8} width={3.6} height={3.6} fill={color} />;
  return <path d={markerPath(kind, cx, cy)} stroke={color} strokeWidth={1} fill="none" />;
}

const tickStyle = { fontSize: 10.5, fill: '#000', fontFamily: FONT };

function Panel({ p }: { p: PanelDef }) {
  const [l, t, r, b] = p.rect;
  const w = r - l;
  const h = b - t;
  const cw = w + ML + MR;
  const ch = h + MT + MB;
  const pos = { position: 'absolute' as const, left: l - ML, top: t - MT };
  const legLeft = r - 84;
  const legTop = t + 1;
  return (
    <>
      {/* background: grid + axes */}
      <div style={pos}>
        <ScatterChart width={cw} height={ch} margin={{ top: MT, right: MR, bottom: 0, left: 0 }}>
          <CartesianGrid stroke="#8a8a8a" strokeDasharray="1 2" />
          <XAxis type="number" dataKey="x" domain={p.domain} ticks={p.ticks} interval={0} allowDataOverflow height={MB} axisLine={false} tickLine={false} tick={tickStyle} />
          <YAxis type="number" dataKey="h" domain={[0, 1000]} ticks={HEIGHT_TICKS} interval={0} allowDataOverflow width={ML} axisLine={false} tickLine={false} tick={tickStyle} />
        </ScatterChart>
      </div>
      {/* legend, below the data */}
      <svg width={83} height={68} style={{ position: 'absolute', left: legLeft, top: legTop, background: '#fff' }}>
        {SERIES_NAMES.map((name, i) => {
          const cy = 8 + i * 10.3;
          return (
            <g key={name}>
              <text x={36} y={cy + 3.7} textAnchor="end" fontSize={10.5} fontFamily={FONT} fill="#000">{name}</text>
              <line x1={46} x2={72} y1={cy} y2={cy} stroke={SERIES_COLORS[i]} strokeWidth={i === 4 ? 1.8 : 1.3} />
              <Marker cx={59} cy={cy} kind={i} color={SERIES_COLORS[i]} />
            </g>
          );
        })}
      </svg>
      {/* foreground: series */}
      <div style={pos}>
        <ScatterChart width={cw} height={ch} margin={{ top: MT, right: MR, bottom: MB, left: ML }}>
          <XAxis hide type="number" dataKey="x" domain={p.domain} allowDataOverflow />
          <YAxis hide type="number" dataKey="h" domain={[0, 1000]} allowDataOverflow />
          {p.series.map((s, i) => (
            <Scatter
              key={SERIES_NAMES[i]}
              name={SERIES_NAMES[i]}
              data={s.map(([hh, xx]) => ({ h: hh, x: xx }))}
              fill={SERIES_COLORS[i]}
              line={{ stroke: SERIES_COLORS[i], strokeWidth: SERIES_WIDTHS[i] }}
              lineType="joint"
              shape={(props: any) => <Marker cx={props.cx} cy={props.cy} kind={i} color={SERIES_COLORS[i]} />}
              isAnimationActive={false}
            />
          ))}
        </ScatterChart>
      </div>
      {/* panel letter with white box */}
      <svg width={43} height={66} style={{ position: 'absolute', left: p.glyph[0] - 4, top: p.glyph[1] - 56, background: '#fff' }}>
        <text x={4} y={56} fontSize={40} fontWeight="bold" fontFamily={FONT} fill="#000">{p.letter}</text>
      </svg>
      {/* border */}
      <div style={{ position: 'absolute', left: l, top: t, width: w + 1, height: h + 1, border: '1px solid #000', boxSizing: 'border-box', pointerEvents: 'none' }} />
      {/* title */}
      <div style={{ position: 'absolute', left: (l + r) / 2, top: t - 15, transform: 'translate(-50%, -50%)', fontSize: 10.4, fontFamily: FONT, whiteSpace: 'nowrap', color: '#000' }}>{p.title}</div>
      {/* x label */}
      <div style={{ position: 'absolute', left: (l + r) / 2, top: b + 26, transform: 'translate(-50%, -50%)', fontSize: 10.2, fontFamily: FONT, whiteSpace: 'nowrap', color: '#000', lineHeight: '12px' }}>{p.xLabel}</div>
      {/* y label */}
      <div style={{ position: 'absolute', left: l - 48, top: (t + b) / 2, transform: 'translate(-50%, -50%) rotate(-90deg)', fontSize: 10.2, fontFamily: FONT, whiteSpace: 'nowrap', color: '#000' }}>Height [m]</div>
    </>
  );
}

export default function App() {
  return (
    <div style={{ position: 'absolute', left: 0, top: 0, width: 1213, height: 1477, background: '#fff', overflow: 'hidden' }}>
      {PANELS.map((p) => <Panel key={p.letter} p={p} />)}
    </div>
  );
}
